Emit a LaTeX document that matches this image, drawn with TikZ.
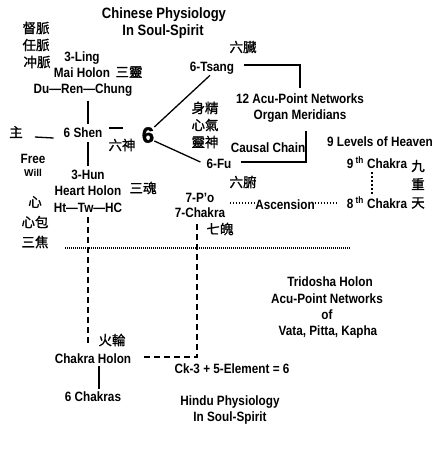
\documentclass[tikz,border=0pt]{standalone}
\usepackage{fontspec}
\setmainfont{Liberation Sans}[FakeStretch=0.87]
\newfontfamily\cjk{Noto Sans CJK TC}[FakeBold=1]
\newfontfamily\bigsix{Liberation Sans Bold}[FakeBold=2]
\newfontfamily\widesans{Liberation Sans Bold}
\usetikzlibrary{calc}
\tikzset{
  lbl/.style={font=\bfseries\fontsize{13.5}{14}\selectfont, inner sep=0pt, anchor=center},
  ttl/.style={font=\bfseries\fontsize{15}{16}\selectfont, inner sep=0pt, anchor=center},
  cj/.style={font=\cjk\fontsize{13.5}{14}\selectfont, inner sep=0pt, anchor=center},
  small/.style={font=\widesans\fontsize{10}{11}\selectfont, inner sep=0pt},
  bigsix/.style={font=\bigsix\fontsize{22}{23}\selectfont, inner sep=0pt},
  solidline/.style={line width=1.3pt},
  dashline/.style={line width=1.8pt, dash pattern=on 6pt off 4pt},
  dotline/.style={line width=1.6pt, dash pattern=on 1.3pt off 1.7pt},
  sepline/.style={line width=1.6pt, dash pattern=on 1pt off 1pt},
}
\begin{document}
\begin{tikzpicture}[x=1pt,y=-1pt]
\fill[white] (0,0) rectangle (444,450);
\useasboundingbox (0,0) rectangle (444,450);
% titles
\node[ttl] (t1) at (164,15) {Chinese Physiology};
\node[ttl] (t2) at (163,32) {In Soul-Spirit};
% left column chinese
\node[cj] (c1) at (36,28) {督脈};
\node[cj] (c2) at (36,45) {任脈};
\node[cj] (c3) at (37,62) {冲脈};
\node[lbl] (ling) at (82,58) {3-Ling};
\node[lbl] (mai) at (82,73) {Mai Holon};
\node[cj] (sanling) at (129,72) {三靈};
\node[lbl] (drc) at (83,90) {Du---Ren---Chung};
\node[cj] (zhu) at (16,132) {主};
\node[lbl] (shen) at (83,133) {6 Shen};
\node[cj] (liushen) at (122,145) {六神};
\node[bigsix] (big) at (148,135) {6};
% right top
\node[lbl] (tsang) at (212,68) {6-Tsang};
\node[cj] (liuzang) at (243,47) {六臓};
\node[lbl] (acu12) at (300,99) {12 Acu-Point Networks};
\node[lbl] (om) at (300,116) {Organ Meridians};
\node[cj] (sj) at (205,108) {身精};
\node[cj] (xq) at (205,125) {心氣};
\node[cj] (ls) at (205,142) {靈神};
\node[lbl] (causal) at (268,148) {Causal Chain};
\node[lbl] (fu) at (219,164) {6-Fu};
\node[cj] (liufu) at (243,182) {六腑};
% heaven
\node[lbl] (heaven) at (380,142) {9 Levels of Heaven};
\node[lbl] (ch9) at (377,163) {9\,\textsuperscript{th} Chakra};
\node[cj] (jiu) at (418,166) {九};
\node[cj] (zhong) at (418,184) {重};
\node[cj] (tian) at (418,203) {天};
\node[lbl] (ch8) at (377,203) {8\,\textsuperscript{th} Chakra};
\node[lbl] (asc) at (285,205) {Ascension};
\node[lbl] (po) at (200,198) {7-P'o};
\node[lbl] (ch7) at (200,213) {7-Chakra};
\node[cj] (qipo) at (220,229) {七魄};
% left middle
\node[lbl] (free) at (33,159) {Free};
\node[small] (will) at (33,173) {Will};
\node[lbl] (hun) at (88,175) {3-Hun};
\node[lbl] (hh) at (88,191) {Heart Holon};
\node[lbl] (htw) at (88,208) {Ht---Tw---HC};
\node[cj] (sanhun) at (143,188) {三魂};
\node[cj] (xin) at (35,202) {心};
\node[cj] (xinbao) at (35,222) {心包};
\node[cj] (sanjiao) at (35,242) {三焦};
% bottom
\node[cj] (huolun) at (112,340) {火輪};
\node[lbl] (chk) at (93,359) {Chakra Holon};
\node[lbl] (six) at (93,397) {6 Chakras};
\node[lbl] (ck3) at (232,369) {Ck-3 + 5-Element = 6};
\node[lbl] (h1) at (230,402) {Hindu Physiology};
\node[lbl] (h2) at (230,418) {In Soul-Spirit};
\node[lbl] (tri) at (330,282) {Tridosha Holon};
\node[lbl] (apn) at (327,299) {Acu-Point Networks};
\node[lbl] (of) at (327,315) {of};
\node[lbl] (vpk) at (328,332) {Vata, Pitta, Kapha};
% helper coordinates
\coordinate (vx) at (88,0);
\coordinate (vr) at (197,0);
\coordinate (vh) at (372,0);
\coordinate (ascy) at (0,203);
\coordinate (sepL) at (65,248);
\coordinate (sepR) at (350,248);
% connectors
\draw[solidline] ($(drc.south -| vx)+(0,4)$) -- ($(shen.north -| vx)+(0,-4)$);
\draw[solidline] ($(shen.south -| vx)+(0,4)$) -- ($(hun.north -| vx)+(0,-4)$);
\draw[solidline] ($(zhu.east)+(12,5)$) -- ($(shen.west)+(-10,5)$);
\draw[solidline] ($(shen.east)+(7,-5)$) -- ($(big.west)+(-19,-7)$);
\draw[solidline] (big.north east) -- ($(tsang.south)+(-2,1)$);
\draw[solidline] ($(big.south east)+(0,-2)$) -- ($(fu.west)+(-6,-2)$);
\draw[solidline] ($(tsang.east)+(10,-3)$) -| ($(acu12.north)+(0,-6)$);
\draw[solidline] ($(fu.east)+(9,-2)$) -| ($(om.south)+(6,8)$);
\draw[dotline] (ascy -| 230,0) -- (ascy -| asc.west);
\draw[dotline] (ascy -| asc.east) -- ($(ascy -| ch8.west)+(-10,0)$);
\draw[line width=2.6pt, dash pattern=on 2pt off 2pt] ($(ch9.south -| vh)+(0,3)$) -- ($(ch8.north -| vh)+(0,-3)$);
\draw[sepline] (sepL) -- (sepR);
\draw[dashline] ($(htw.south -| vx)+(0,4)$) -- ($(chk.north -| vx)+(0,-10)$);
\draw[dashline] ($(ch7.south -| vr)+(0,6)$) |- ($(chk.east)+(11,-2)$);
\draw[solidline] ($(chk.south)+(6,2)$) -- ($(six.north)+(6,-3)$);
\end{tikzpicture}
\end{document}
